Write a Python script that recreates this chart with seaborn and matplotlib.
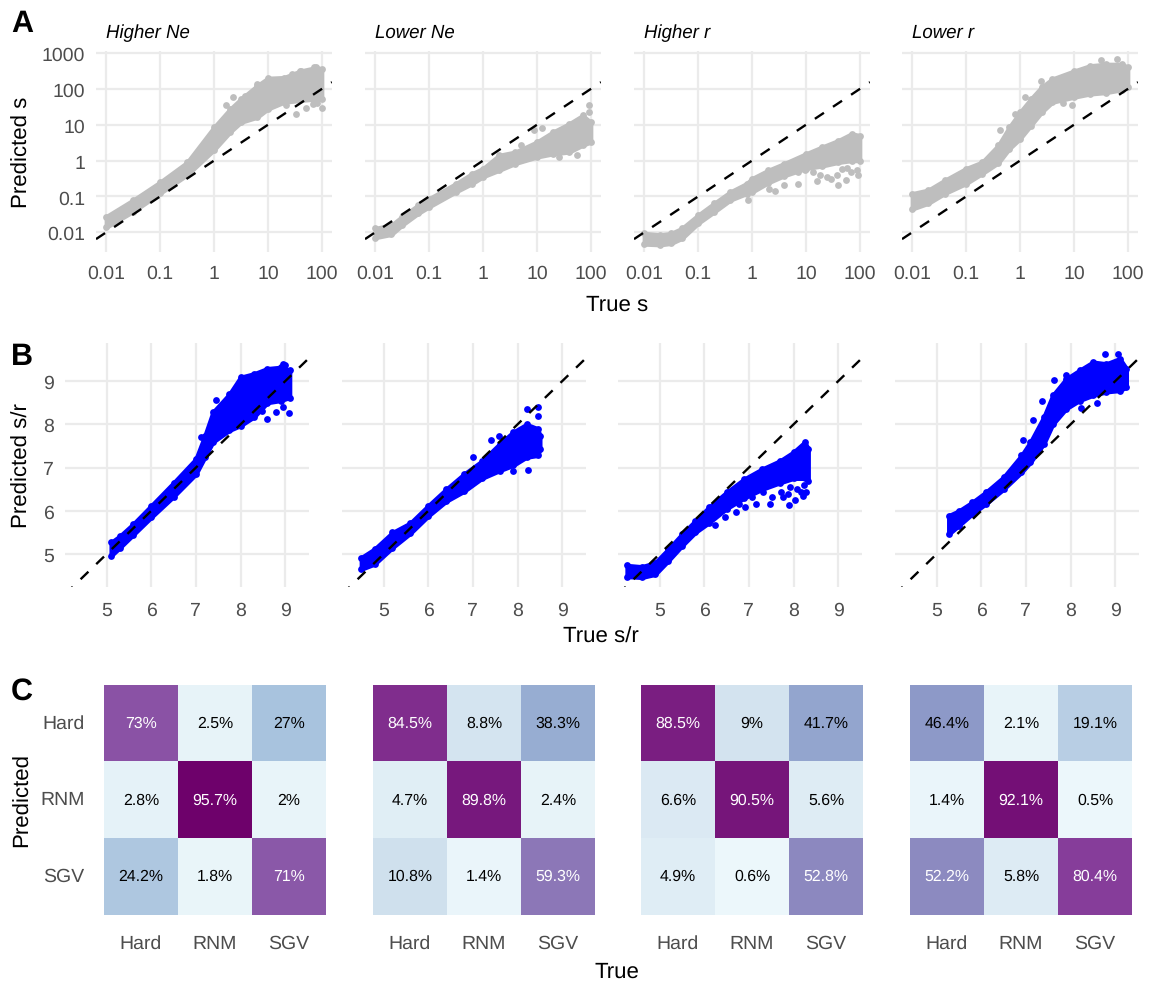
import matplotlib
matplotlib.use("Agg")
import matplotlib.pyplot as plt
from matplotlib.colors import LinearSegmentedColormap
import numpy as np
import pandas as pd
import seaborn as sns

W, H = 1149, 987
panel_names = ["Higher Ne", "Lower Ne", "Higher r", "Lower r"]

# Row A: log10 true s, with lower and upper edge of the solid cloud (log10 predicted s)
a1_x = [-2, -1.5, -1, -0.5, 0, 0.3, 0.5, 0.8, 1, 1.3, 1.6, 1.9, 2]
a1_lo = [-1.86, -1.42, -0.91, -0.40, 0.30, 0.80, 1.07, 1.21, 1.44, 1.63, 1.68, 1.72, 1.72]
a1_hi = [-1.56, -1.10, -0.60, -0.05, 0.93, 1.44, 1.72, 2.09, 2.30, 2.32, 2.50, 2.60, 2.56]
a1_ox = [1.52, 1.71, 1.83, 1.92, 2.0, 1.33, 0.36, 0.22, 0.58, 0.79, 1.22, 1.44, 1.61, 1.86]
a1_oy = [1.30, 1.46, 1.58, 1.60, 1.46, 1.54, 1.77, 1.54, 1.81, 2.14, 2.19, 2.41, 2.51, 2.60]

a2_x = [-2, -1.7, -1.5, -1.2, -1, -0.5, -0.2, 0, 0.3, 0.6, 1, 1.3, 1.6, 1.85, 2]
a2_lo = [-2.15, -2.06, -1.80, -1.47, -1.29, -0.87, -0.64, -0.45, -0.27, -0.08, 0.10, 0.19, 0.24, 0.43, 0.52]
a2_hi = [-1.89, -1.80, -1.56, -1.24, -1.06, -0.64, -0.36, -0.22, 0.15, 0.24, 0.52, 0.80, 1.03, 1.26, 1.07]
a2_ox = [1.09, 0.95, 1.96, 1.96, 1.41, 1.74, 0.70]
a2_oy = [0.91, 0.85, 1.56, 1.35, 0.10, 0.17, 0.45]

a3_x = [-2, -1.7, -1.5, -1.3, -1, -0.7, -0.4, -0.1, 0, 0.3, 0.6, 1, 1.3, 1.6, 1.85, 2]
a3_lo = [-2.33, -2.35, -2.31, -2.17, -1.75, -1.43, -1.10, -0.92, -0.88, -0.62, -0.42, -0.22, -0.15, -0.05, 0.00, 0.00]
a3_hi = [-2.03, -2.07, -2.03, -1.89, -1.52, -1.19, -0.87, -0.64, -0.50, -0.27, -0.08, 0.19, 0.38, 0.56, 0.75, 0.70]
a3_ox = [-0.07, 0.32, 0.42, 0.59, 0.86, 0.86, 0.99, 1.13, 1.20, 1.26, 1.40, 1.47, 1.57, 1.59, 1.74, 1.84, 1.97, 1.77, 1.94, 1.67]
a3_oy = [-1.10, -0.80, -0.85, -0.69, -0.64, -0.31, -0.27, -0.31, -0.57, -0.41, -0.45, -0.50, -0.41, -0.67, -0.55, -0.31, -0.39, -0.20, -0.25, -0.22]

a4_x = [-2, -1.7, -1.4, -1, -0.7, -0.4, -0.2, 0, 0.2, 0.4, 0.6, 1, 1.3, 1.6, 1.9, 2]
a4_lo = [-1.35, -1.19, -0.92, -0.64, -0.36, -0.06, 0.33, 0.61, 0.98, 1.35, 1.63, 1.77, 1.86, 1.90, 1.98, 2.05]
a4_hi = [-0.92, -0.82, -0.55, -0.22, -0.04, 0.43, 0.93, 1.35, 1.72, 2.05, 2.28, 2.50, 2.65, 2.69, 2.69, 2.60]
a4_ox = [0.39, 0.10, -0.09, -0.37, 1.50, 1.80, 0.96, 0.79]
a4_oy = [2.21, 1.77, 1.30, 0.85, 2.80, 2.83, 1.56, 1.61]

# Row B: true s/r, with lower and upper edge of the solid cloud (predicted s/r)
b1_x = [5.1, 5.3, 5.6, 6, 6.5, 7, 7.2, 7.38, 7.75, 8, 8.3, 8.6, 8.9, 9.1]
b1_lo = [4.96, 5.15, 5.45, 5.85, 6.33, 6.85, 7.24, 7.59, 7.86, 7.97, 8.17, 8.50, 8.55, 8.62]
b1_hi = [5.27, 5.42, 5.70, 6.12, 6.65, 7.20, 7.74, 8.28, 8.70, 9.09, 9.17, 9.29, 9.32, 9.25]
b1_ox = [8.60, 9.08, 8.79, 8.48, 8.95, 7.45, 7.11, 8.95, 9.0]
b1_oy = [8.13, 8.26, 8.28, 8.30, 8.40, 8.57, 7.70, 9.40, 9.36]

b2_x = [4.5, 4.8, 5.2, 5.6, 6, 6.4, 6.8, 7.2, 7.6, 7.9, 8.2, 8.45, 8.5]
b2_lo = [4.65, 4.77, 5.15, 5.48, 5.88, 6.22, 6.45, 6.75, 6.93, 7.05, 7.24, 7.28, 7.43]
b2_hi = [4.92, 5.12, 5.50, 5.72, 6.12, 6.50, 6.85, 7.15, 7.55, 7.82, 8.00, 7.90, 7.74]
b2_ox = [7.41, 7.59, 8.22, 8.45, 8.45, 7.90, 8.24, 7.0]
b2_oy = [7.64, 7.72, 8.36, 8.40, 8.20, 6.91, 6.95, 7.25]

b3_x = [4.27, 4.6, 4.9, 5.2, 5.5, 5.8, 6.1, 6.5, 6.9, 7.3, 7.7, 8, 8.25, 8.33]
b3_lo = [4.48, 4.46, 4.53, 4.85, 5.19, 5.50, 5.72, 6.05, 6.30, 6.50, 6.65, 6.75, 6.75, 6.70]
b3_hi = [4.74, 4.71, 4.80, 5.12, 5.46, 5.77, 6.08, 6.43, 6.74, 6.97, 7.16, 7.36, 7.59, 7.43]
b3_ox = [6.23, 6.46, 6.70, 6.91, 6.78, 7.15, 7.07, 7.31, 7.47, 7.51, 7.72, 7.90, 7.76, 8.04, 7.88, 8.16, 8.28, 8.08, 7.92, 8.24, 8.20]
b3_oy = [5.68, 5.85, 5.98, 6.10, 6.16, 6.16, 6.31, 6.43, 6.16, 6.31, 6.43, 6.14, 6.31, 6.25, 6.39, 6.43, 6.43, 6.51, 6.55, 6.60, 6.35]

b4_x = [5.27, 5.5, 5.8, 6.1, 6.5, 6.9, 7.1, 7.4, 7.6, 7.9, 8.2, 8.5, 8.8, 9.1, 9.25]
b4_lo = [5.46, 5.66, 5.93, 6.16, 6.50, 6.89, 7.12, 7.55, 8.00, 8.36, 8.55, 8.67, 8.75, 8.78, 8.86]
b4_hi = [5.89, 6.00, 6.20, 6.43, 6.78, 7.28, 7.59, 8.17, 8.67, 9.05, 9.25, 9.44, 9.40, 9.52, 9.29]
b4_ox = [8.76, 9.07, 7.63, 7.35, 7.15, 6.93, 8.59, 8.23, 7.9]
b4_oy = [9.62, 9.63, 9.03, 8.55, 8.09, 7.63, 8.50, 8.37, 9.15]

# Row C: percentages, rows Hard/RNM/SGV (predicted), columns Hard/RNM/SGV (true)
classes = ["Hard", "RNM", "SGV"]
c1 = [[73, 2.5, 27], [2.8, 95.7, 2], [24.2, 1.8, 71]]
c2 = [[84.5, 8.8, 38.3], [4.7, 89.8, 2.4], [10.8, 1.4, 59.3]]
c3 = [[88.5, 9, 41.7], [6.6, 90.5, 5.6], [4.9, 0.6, 52.8]]
c4 = [[46.4, 2.1, 19.1], [1.4, 92.1, 0.5], [52.2, 5.8, 80.4]]
bupu = ["#EDF8FB", "#BFD3E6", "#9EBCDA", "#8C96C6", "#8C6BB1", "#88419D", "#6E016B"]

ticks_a = [-2, -1, 0, 1, 2]
ticks_a_x = ["0.01", "0.1", "1", "10", "100"]
ticks_a_y_pos = [-2, -1, 0, 1, 2, 3]
ticks_a_y = ["0.01", "0.1", "1", "10", "100", "1000"]
ticks_b = [5, 6, 7, 8, 9]

sns.set_theme(style="white")
plt.rcParams["font.family"] = ["Liberation Sans", "DejaVu Sans"]
plt.rcParams["axes.unicode_minus"] = False
plt.rcParams["text.hinting"] = "none"

GRID = "#EBEBEB"
TICK = "#4D4D4D"
TICK_SIZE = 14
fig = plt.figure(figsize=(W / 100, H / 100), dpi=100, facecolor="white")


def make_ax(x0, x1, y0, y1):
    return fig.add_axes([x0 / W, 1 - y1 / H, (x1 - x0) / W, (y1 - y0) / H])


def label(x, y, s, **kw):
    fig.text(x / W, 1 - y / H, s, ha=kw.pop("ha", "center"), va="center", **kw)


def scatter_panel(ax, xs, lo, hi, ox, oy, color, xlim, ylim):
    ax.fill_between(xs, lo, hi, color=color, lw=3, zorder=2)
    pts = pd.DataFrame({"x": list(xs) + list(xs) + list(ox), "y": list(lo) + list(hi) + list(oy)})
    sns.scatterplot(data=pts, x="x", y="y", ax=ax, color=color, s=24, linewidth=0, zorder=3)
    ax.plot([xlim[0], xlim[1]], [xlim[0], xlim[1]], color="black", lw=1.7,
            dashes=(4.6, 4.6), zorder=4)
    ax.set_xlim(*xlim)
    ax.set_ylim(*ylim)
    ax.set_xlabel("")
    ax.set_ylabel("")
    ax.grid(True, color=GRID, lw=1.6, zorder=0)
    ax.set_axisbelow(True)
    for sp in ax.spines.values():
        sp.set_visible(False)
    ax.tick_params(length=0, labelsize=TICK_SIZE, labelcolor=TICK)


# Row A
a_left = [96, 365, 634, 902]
a_data = [(a1_x, a1_lo, a1_hi, a1_ox, a1_oy), (a2_x, a2_lo, a2_hi, a2_ox, a2_oy),
          (a3_x, a3_lo, a3_hi, a3_ox, a3_oy), (a4_x, a4_lo, a4_hi, a4_ox, a4_oy)]
for i, (left, d) in enumerate(zip(a_left, a_data)):
    ax = make_ax(left, left + 236, 52, 253)
    scatter_panel(ax, *d, "#BEBEBE", (-2.19, 2.19), (-2.55, 3.06))
    ax.set_xticks(ticks_a, ticks_a_x)
    ax.set_yticks(ticks_a_y_pos, ticks_a_y if i == 0 else [""] * 6)
    ax.tick_params(axis="x", pad=9)
    ax.tick_params(axis="y", pad=8)
    label(left + 10, 33, panel_names[i], ha="left", fontsize=13.4, style="italic", color="black")

# Row B
b_left = [65, 342, 618, 895]
b_data = [(b1_x, b1_lo, b1_hi, b1_ox, b1_oy), (b2_x, b2_lo, b2_hi, b2_ox, b2_oy),
          (b3_x, b3_lo, b3_hi, b3_ox, b3_oy), (b4_x, b4_lo, b4_hi, b4_ox, b4_oy)]
for i, (left, d) in enumerate(zip(b_left, b_data)):
    ax = make_ax(left, left + 243.5, 344, 588)
    scatter_panel(ax, *d, "#0000FF", (4.07, 9.52), (4.24, 9.88))
    ax.set_xticks(ticks_b, [str(t) for t in ticks_b])
    ax.set_yticks(ticks_b, [str(t) for t in ticks_b] if i == 0 else [""] * 5)
    ax.tick_params(axis="x", pad=10)
    ax.tick_params(axis="y", pad=8)

# Row C
cmap = LinearSegmentedColormap.from_list("BuPu7", bupu)
c_left = [104, 373, 641, 910]
for i, (left, c) in enumerate(zip(c_left, [c1, c2, c3, c4])):
    ax = make_ax(left, left + 222, 685.5, 915.5)
    m = np.array(c, dtype=float)
    texts = np.array([[f"{v:g}%" for v in row] for row in c])
    sns.heatmap(m, ax=ax, cmap=cmap, vmin=0, vmax=95.7, cbar=False, annot=texts, fmt="",
                annot_kws={"fontsize": 11.4},
                xticklabels=classes, yticklabels=classes if i == 0 else False, linewidths=0)
    flat = m.flatten()
    for t, v in zip(ax.texts, flat):
        t.set_color("white" if v > 50 else "black")
    ax.tick_params(length=0, labelsize=TICK_SIZE, labelcolor=TICK, pad=14)
    ax.tick_params(axis="y", rotation=0)
    ax.set_xlabel("")
    ax.set_ylabel("")

# Shared labels
kw_title = dict(color="black", fontsize=16)
label(617, 305, "True s", **kw_title)
label(601, 637, "True s/r", **kw_title)
label(617, 972, "True", **kw_title)
label(22, 152, "Predicted s", rotation=90, **kw_title)
label(22, 466, "Predicted s/r", rotation=90, **kw_title)
label(22, 800, "Predicted", rotation=90, **kw_title)

for s, y in zip("ABC", [24, 357, 692]):
    label(11, y, s, ha="left", fontsize=22, fontweight="bold", color="black")

fig.savefig("out.png", dpi=100, facecolor="white")
